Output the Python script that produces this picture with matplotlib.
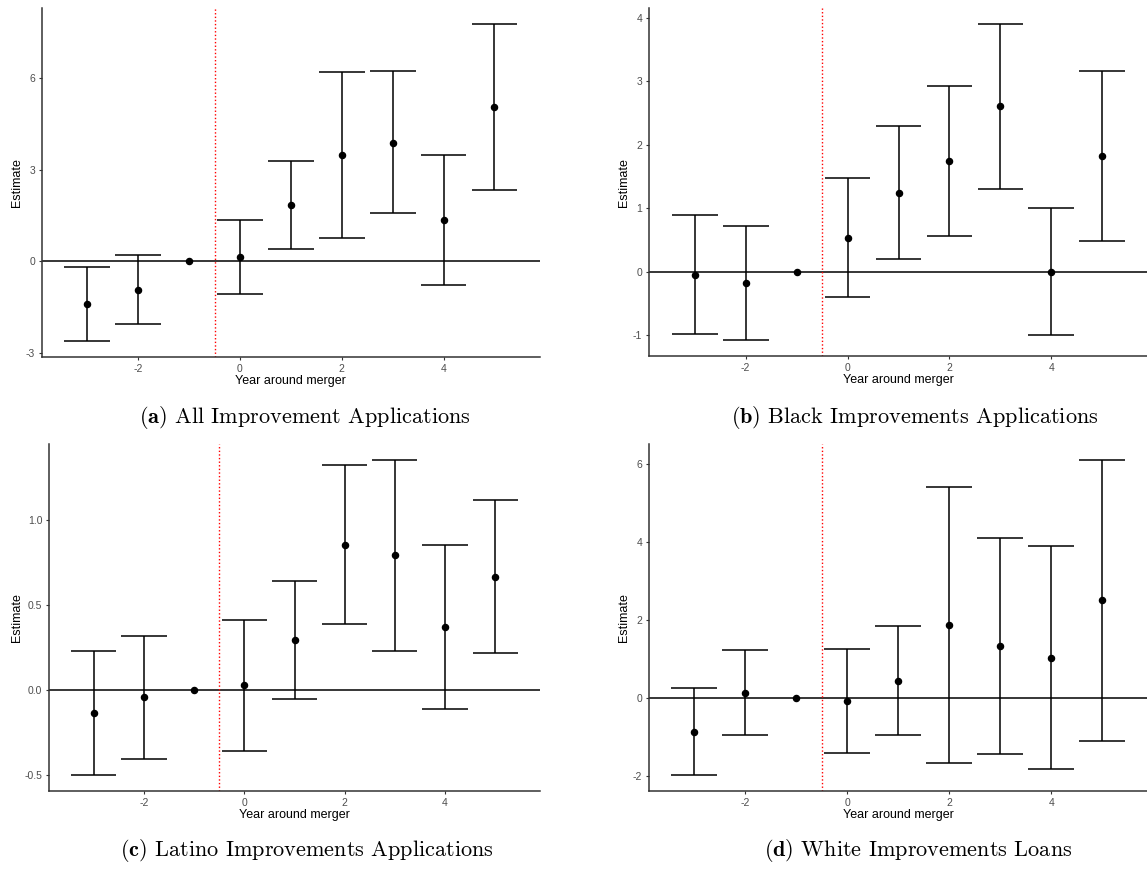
import matplotlib
matplotlib.use("Agg")
import matplotlib.pyplot as plt
import numpy as np

plt.rcParams["mathtext.fontset"] = "cm"

# Event-study estimates: year relative to merger, point estimate, 95% CI bounds
years = [-3, -2, -1, 0, 1, 2, 3, 4, 5]

all_est = [-1.40, -0.92, 0.0, 0.14, 1.85, 3.49, 3.89, 1.35, 5.04]
all_lo = [-2.61, -2.05, 0.0, -1.08, 0.42, 0.77, 1.57, -0.78, 2.34]
all_hi = [-0.18, 0.21, 0.0, 1.37, 3.28, 6.21, 6.23, 3.48, 7.76]

black_est = [-0.05, -0.18, 0.0, 0.53, 1.24, 1.74, 2.61, 0.0, 1.82]
black_lo = [-0.98, -1.08, 0.0, -0.40, 0.20, 0.57, 1.31, -1.00, 0.48]
black_hi = [0.89, 0.72, 0.0, 1.47, 2.29, 2.92, 3.90, 1.00, 3.17]

latino_est = [-0.135, -0.043, 0.0, 0.027, 0.296, 0.855, 0.794, 0.373, 0.669]
latino_lo = [-0.502, -0.404, 0.0, -0.357, -0.055, 0.388, 0.233, -0.112, 0.218]
latino_hi = [0.233, 0.318, 0.0, 0.410, 0.645, 1.327, 1.357, 0.857, 1.120]

white_est = [-0.86, 0.136, 0.0, -0.077, 0.45, 1.87, 1.345, 1.04, 2.51]
white_lo = [-1.97, -0.95, 0.0, -1.39, -0.945, -1.66, -1.42, -1.81, -1.10]
white_hi = [0.255, 1.23, 0.0, 1.25, 1.855, 5.40, 4.11, 3.89, 6.10]

x_ticks = [-2, 0, 2, 4]
y_ticks_all = [-3, 0, 3, 6]
y_ticks_black = [-1, 0, 1, 2, 3, 4]
y_ticks_latino = [-0.5, 0.0, 0.5, 1.0]
y_tick_labels_latino = ["-0.5", "0.0", "0.5", "1.0"]
y_ticks_white = [-2, 0, 2, 4, 6]

captions = [
    ("a", "All Improvement Applications"),
    ("b", "Black Improvements Applications"),
    ("c", "Latino Improvements Applications"),
    ("d", "White Improvements Loans"),
]

W, H = 1147, 872
fig = plt.figure(figsize=(W / 100, H / 100), dpi=100)

SANS = "Liberation Sans"
AXIS_COL = "#333333"
TICK_COL = "#4D4D4D"
CAP_HALF = 0.45
LW = 1.1


def px_rect(x0, x1, ytop, ybot):
    return [x0 / W, 1 - ybot / H, (x1 - x0) / W, (ybot - ytop) / H]


def event_panel(rect, est, lo, hi, yticks, yticklabels=None):
    ax = fig.add_axes(rect)
    x = np.array(years, dtype=float)
    lo = np.array(lo)
    hi = np.array(hi)
    # confidence intervals with caps (reference year has a degenerate CI)
    ci = hi > lo
    ax.vlines(x[ci], lo[ci], hi[ci], color="black", lw=LW, zorder=2)
    ax.hlines(lo[ci], x[ci] - CAP_HALF, x[ci] + CAP_HALF, color="black",
              lw=LW, zorder=2)
    ax.hlines(hi[ci], x[ci] - CAP_HALF, x[ci] + CAP_HALF, color="black",
              lw=LW, zorder=2)
    ax.plot(x, est, "o", color="black", ms=4.4, zorder=3)
    ax.axhline(0, color="black", lw=LW, zorder=1)
    ax.axvline(-0.5, color="#FF0000", lw=1.0, ls=(0, (1, 1.6)), zorder=1)

    # ggplot-style 5% expansion around the drawn extent
    xmin, xmax = x.min() - CAP_HALF, x.max() + CAP_HALF
    dx = 0.05 * (xmax - xmin)
    ax.set_xlim(xmin - dx, xmax + dx)
    ymin, ymax = lo.min(), hi.max()
    dy = 0.05 * (ymax - ymin)
    ax.set_ylim(ymin - dy, ymax + dy)

    ax.set_xticks(x_ticks)
    ax.set_xticklabels([str(t) for t in x_ticks])
    ax.set_yticks(yticks)
    if yticklabels is None:
        yticklabels = [str(t) for t in yticks]
    ax.set_yticklabels(yticklabels)

    for side in ("top", "right"):
        ax.spines[side].set_visible(False)
    for side in ("left", "bottom"):
        ax.spines[side].set_color(AXIS_COL)
        ax.spines[side].set_linewidth(1.1)
    ax.tick_params(axis="both", length=2.3, width=0.8, color=AXIS_COL,
                   labelcolor=TICK_COL, labelsize=7.5, pad=2.5)
    for lab in ax.get_xticklabels() + ax.get_yticklabels():
        lab.set_fontfamily(SANS)
    ax.set_xlabel("Year around merger", fontfamily=SANS, fontsize=9,
                  color="black", labelpad=1.0)
    ax.set_ylabel("Estimate", fontfamily=SANS, fontsize=9, color="black")
    ax.set_facecolor("white")
    return ax


ax_a = event_panel(px_rect(41.7, 540, 8.5, 357), all_est, all_lo, all_hi,
                   y_ticks_all)
ax_b = event_panel(px_rect(649, 1148, 8.5, 356), black_est, black_lo, black_hi,
                   y_ticks_black)
ax_c = event_panel(px_rect(49, 540, 444, 791), latino_est, latino_lo,
                   latino_hi, y_ticks_latino, y_tick_labels_latino)
ax_d = event_panel(px_rect(648.7, 1148, 444, 791), white_est, white_lo,
                   white_hi, y_ticks_white)

# place y-axis titles at a common distance from each column's left edge
for ax, xpx in ((ax_a, 23), (ax_c, 23), (ax_b, 630), (ax_d, 630)):
    bbox = ax.get_position()
    ax.yaxis.set_label_coords(xpx / W, bbox.y0 + bbox.height / 2,
                              transform=fig.transFigure)

cap_pos = [(305, 423), (915, 423), (307, 856), (918, 856)]
for (letter, text), (cx, cy) in zip(captions, cap_pos):
    fig.text(cx / W, 1 - cy / H, r"$\mathbf{(" + letter + r")}$ " + text,
             fontfamily="cmr10", fontsize=16, ha="center", va="baseline",
             color="black")

fig.savefig("out.png", dpi=100, facecolor="white")
